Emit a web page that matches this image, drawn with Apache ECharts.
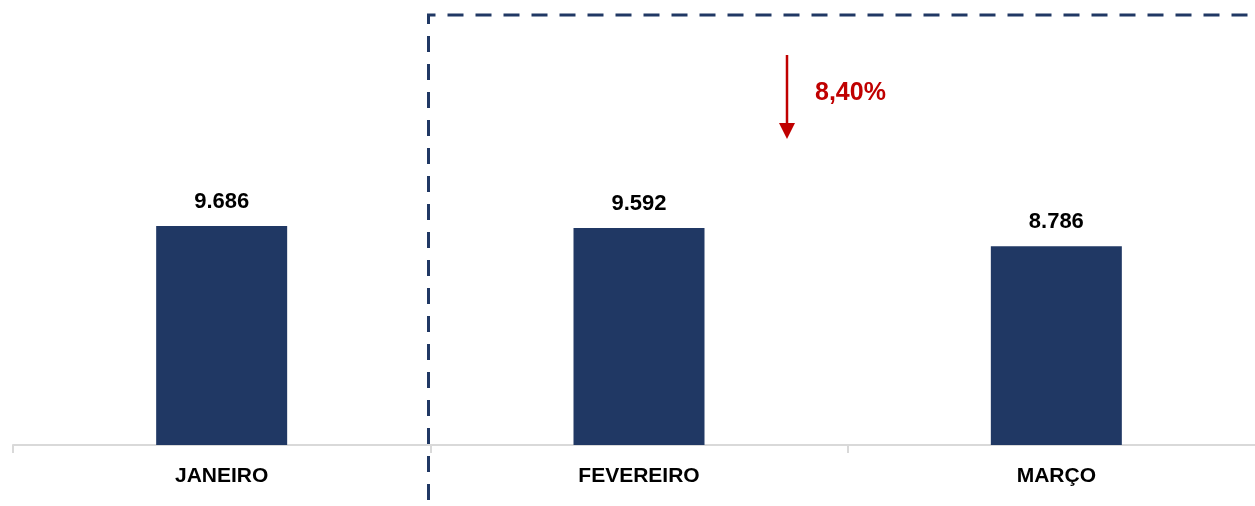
<!DOCTYPE html>
<html>
<head>
<meta charset="utf-8">
<script src="https://cdn.jsdelivr.net/npm/echarts@6/dist/echarts.min.js"></script>
<style>
  html, body { margin: 0; padding: 0; background: #fff; overflow: hidden; }
  /* um pouco mais largo que a janela: o eixo continua além da borda direita */
  #chart { width: 1265px; height: 506px; }
</style>
</head>
<body>
<div id="chart"></div>
<script>
var categories = ["JANEIRO", "FEVEREIRO", "MARÇO"];
var values = [9686, 9592, 8786];
var variationText = "8,40%";

var barColor = "#203864";
var fontFamily = "'Liberation Sans', Arial, sans-serif";

function fmt(v) {
  // separador de milhar com ponto
  return String(v).replace(/\B(?=(\d{3})+(?!\d))/g, ".");
}

var chart = echarts.init(document.getElementById("chart"));

var option = {
  animation: false,
  grid: {
    left: 13,
    right: 0,
    top: 0,
    bottom: 61
  },
  xAxis: {
    type: "category",
    data: categories,
    axisLine: {
      show: true,
      lineStyle: { color: "#d9d9d9", width: 2 }
    },
    axisTick: {
      show: true,
      length: 8,
      lineStyle: { color: "#d9d9d9", width: 2 }
    },
    axisLabel: {
      margin: 21,
      color: "#000",
      fontSize: 21,
      fontWeight: "bold",
      fontFamily: fontFamily
    }
  },
  yAxis: {
    type: "value",
    min: 0,
    max: 19680,
    show: false,
    splitLine: { show: false }
  },
  series: [
    {
      type: "bar",
      data: values,
      barWidth: 131,
      itemStyle: { color: barColor },
      label: {
        show: true,
        position: "top",
        distance: 13,
        color: "#000",
        fontSize: 22,
        fontWeight: "bold",
        fontFamily: fontFamily,
        formatter: function (p) {
          return fmt(p.value);
        }
      }
    }
  ],
  graphic: [
    // caixa tracejada
    {
      type: "polyline",
      shape: { points: [[428.5, 500], [428.5, 15], [1265, 15]] },
      style: {
        stroke: barColor,
        lineWidth: 3,
        fill: null,
        lineDash: [16, 12]
      },
      silent: true
    },
    // seta de variação
    {
      type: "line",
      shape: { x1: 787, y1: 55, x2: 787, y2: 125 },
      style: { stroke: "#c00000", lineWidth: 2.5 },
      silent: true
    },
    {
      type: "polygon",
      shape: { points: [[779, 123], [795, 123], [787, 139]] },
      style: { fill: "#c00000" },
      silent: true
    },
    {
      type: "text",
      left: 815,
      top: 81,
      style: {
        text: variationText,
        fill: "#c00000",
        font: "bold 25px " + fontFamily
      },
      silent: true
    }
  ]
};

chart.setOption(option, true);
</script>
</body>
</html>
